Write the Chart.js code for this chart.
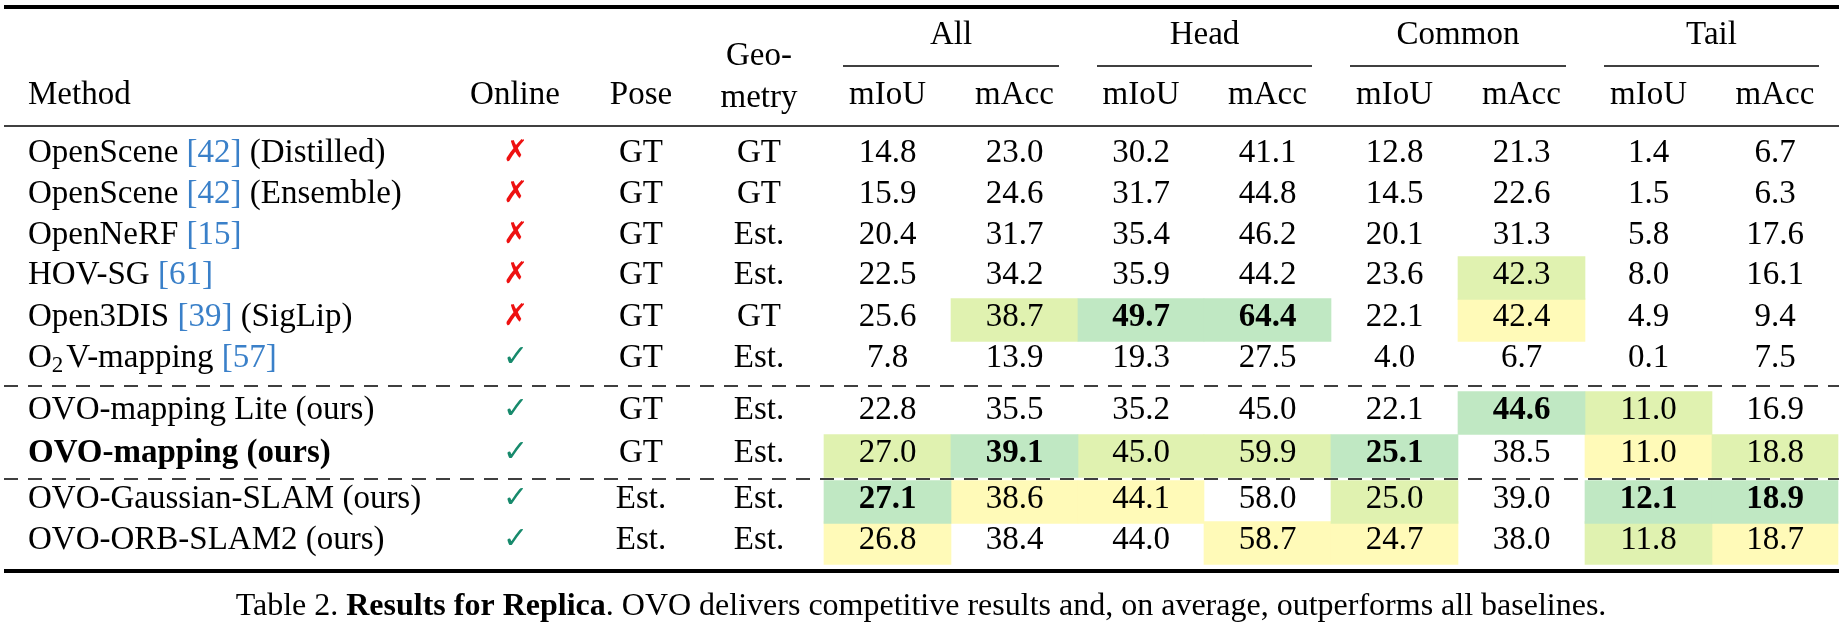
<!DOCTYPE html>
<html><head><meta charset="utf-8">
<script src="https://cdn.jsdelivr.net/npm/chart.js@4"></script>
<style>html,body{margin:0;padding:0;background:#fff}#c{display:block}</style>
</head><body><canvas id="c" width="1845" height="631"></canvas>
<script>
// ---- data ----
const methods = [
  [["OpenScene ",0],["[42]",2],[" (Distilled)",0]],
  [["OpenScene ",0],["[42]",2],[" (Ensemble)",0]],
  [["OpenNeRF ",0],["[15]",2]],
  [["HOV-SG ",0],["[61]",2]],
  [["Open3DIS ",0],["[39]",2],[" (SigLip)",0]],
  [["O",0],["2",3],["V-mapping ",0],["[57]",2]],
  [["OVO-mapping Lite (ours)",0]],
  [["OVO-mapping (ours)",1]],
  [["OVO-Gaussian-SLAM (ours)",0]],
  [["OVO-ORB-SLAM2 (ours)",0]]
];
const online = [false,false,false,false,false,true,true,true,true,true];
const pose = ["GT","GT","GT","GT","GT","GT","GT","GT","Est.","Est."];
const geometry = ["GT","GT","Est.","Est.","GT","Est.","Est.","Est.","Est.","Est."];
const groups = ["All","Head","Common","Tail"];
const metrics = ["mIoU","mAcc"];
const allMIoU  = [14.8,15.9,20.4,22.5,25.6,7.8,22.8,27.0,27.1,26.8];
const allMAcc  = [23.0,24.6,31.7,34.2,38.7,13.9,35.5,39.1,38.6,38.4];
const headMIoU = [30.2,31.7,35.4,35.9,49.7,19.3,35.2,45.0,44.1,44.0];
const headMAcc = [41.1,44.8,46.2,44.2,64.4,27.5,45.0,59.9,58.0,58.7];
const comMIoU  = [12.8,14.5,20.1,23.6,22.1,4.0,22.1,25.1,25.0,24.7];
const comMAcc  = [21.3,22.6,31.3,42.3,42.4,6.7,44.6,38.5,39.0,38.0];
const tailMIoU = [1.4,1.5,5.8,8.0,4.9,0.1,11.0,11.0,12.1,11.8];
const tailMAcc = [6.7,6.3,17.6,16.1,9.4,7.5,16.9,18.8,18.9,18.7];
// highlighted cells: [row, metric column]
const firstCells  = [[4,2],[4,3],[6,5],[7,1],[7,4],[8,0],[8,6],[8,7]];
const secondCells = [[3,5],[4,1],[6,6],[7,0],[7,2],[7,3],[7,7],[8,4],[9,6]];
const thirdCells  = [[4,5],[7,6],[8,1],[8,2],[9,0],[9,3],[9,4],[9,7]];
const caption = [["Table 2. ",0],["Results for Replica",1],[". OVO delivers competitive results and, on average, outperforms all baselines.",0]];

// ---- layout ----
const cols = [allMIoU,allMAcc,headMIoU,headMAcc,comMIoU,comMAcc,tailMIoU,tailMAcc];
const rowY = [156,197,238,278,320,361,413,456,502,543];
const colEdge = [824,951,1078,1204,1331,1458,1585,1712,1838];
const colMid = i => (colEdge[i]+colEdge[i+1])/2;
const FONT = '"Liberation Serif","DejaVu Serif",serif';
const FS = 33;

function cellData(list){ return list.map(([r,c])=>({y:rowY[r], x:[colEdge[c],colEdge[c+1]]})); }

const tablePlugin = {
  id:'table',
  afterDatasetsDraw(chart){
    const ctx = chart.ctx, X = v=>chart.scales.x.getPixelForValue(v), Y = v=>chart.scales.y.getPixelForValue(v);
    ctx.save();
    const font=(b,s)=>(b?'bold ':'')+(s||FS)+'px '+FONT;
    function txt(t,x,y,align,b,s,col){ctx.font=font(b,s);ctx.textAlign=align||'center';ctx.textBaseline='middle';ctx.fillStyle=col||'#000';ctx.fillText(t,X(x),Y(y));}
    function hline(y,x0,x1,w,dash){ctx.beginPath();ctx.strokeStyle='#000';ctx.lineWidth=w;ctx.setLineDash(dash||[]);ctx.moveTo(X(x0),Y(y));ctx.lineTo(X(x1),Y(y));ctx.stroke();}
    hline(7,4,1839,4); hline(126,4,1839,1.6); hline(571,4,1839,4);
    hline(386,4,1839,1.4,[14,10]); hline(479,4,1839,1.4,[14,10]);
    groups.forEach((g,i)=>{
      txt(g,(colEdge[2*i]+colEdge[2*i+2])/2,35);
      hline(66,colEdge[2*i]+19,colEdge[2*i+2]-19,1.4);
      metrics.forEach((m,j)=>txt(m,colMid(2*i+j),95));
    });
    txt("Method",28,95,'left'); txt("Online",515,95); txt("Pose",641,95);
    txt("Geo-",759,56); txt("metry",759,98);
    const bold = new Set(firstCells.map(([r,c])=>r+','+c));
    methods.forEach((segs,r)=>{
      const y=rowY[r]-3; let x=X(28);
      segs.forEach(([t,st])=>{
        ctx.font = st===3 ? font(false,23) : font(st===1);
        ctx.fillStyle = st===2 ? '#3a80c9' : '#000';
        ctx.textAlign='left'; ctx.textBaseline='middle';
        ctx.fillText(t,x,Y(st===3?y+8:y));
        x += ctx.measureText(t).width + (st===3?3:0);
      });
      txt(online[r]?'✓':'✗',515,y,'center',false,30,online[r]?'#178a6c':'#ee1111');
      txt(pose[r],641,y); txt(geometry[r],759,y);
      cols.forEach((arr,c)=>txt(arr[r].toFixed(1),colMid(c),y,'center',bold.has(r+','+c)));
    });
    let w=0;
    caption.forEach(([t,b])=>{ctx.font=font(b,32); w+=ctx.measureText(t).width;});
    let cx=X(921)-w/2;
    caption.forEach(([t,b])=>{ctx.font=font(b,32);ctx.textAlign='left';ctx.textBaseline='middle';ctx.fillStyle='#000';ctx.fillText(t,cx,Y(607));cx+=ctx.measureText(t).width;});
    ctx.restore();
  }
};

const ds = (data,color)=>({data, backgroundColor:color, borderWidth:0, barThickness:43, grouped:false});
new Chart(document.getElementById('c'),{
  type:'bar',
  data:{datasets:[ds(cellData(firstCells),'#c0e8c3'),ds(cellData(secondCells),'#e0f2b0'),ds(cellData(thirdCells),'#fffab8')]},
  options:{
    indexAxis:'y', responsive:false, animation:false,
    layout:{padding:0},
    plugins:{legend:{display:false},tooltip:{enabled:false}},
    scales:{
      x:{type:'linear',min:0,max:1845,display:false,offset:false},
      y:{type:'linear',min:0,max:631,reverse:true,display:false,offset:false}
    }
  },
  plugins:[tablePlugin]
});
</script></body></html>
